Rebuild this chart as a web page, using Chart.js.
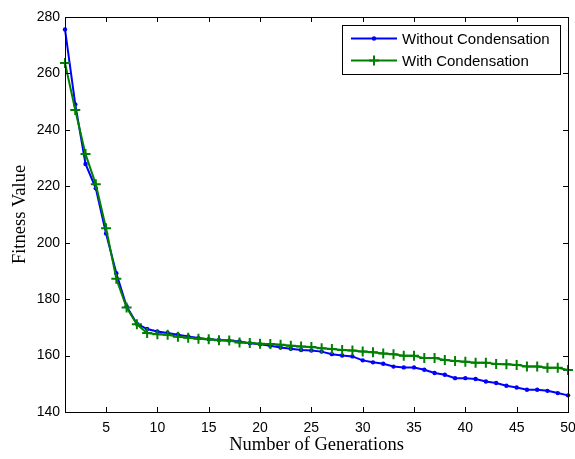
<!DOCTYPE html>
<html>
<head>
<meta charset="utf-8">
<script src="https://cdn.jsdelivr.net/npm/chart.js@4/dist/chart.umd.min.js"></script>
<style>
  html, body { margin: 0; padding: 0; background: #fff; }
  #wrap { width: 575px; height: 459px; }
</style>
</head>
<body>
<div id="wrap"><canvas id="fitness-chart"></canvas></div>
<script>
const generations = Array.from({ length: 50 }, (_, i) => i + 1);

const withoutCondensation = [
  275.6, 249.0, 227.9, 219.3, 203.3, 189.2, 177.5, 171.3, 169.4, 168.5,
  168.0, 167.4, 166.8, 166.2, 165.8, 165.5, 165.3, 165.0, 164.4, 164.0,
  163.5, 162.9, 162.4, 162.0, 161.8, 161.4, 160.5, 160.0, 159.7, 158.3,
  157.6, 157.1, 156.1, 155.8, 155.8, 155.0, 153.8, 153.2, 152.0, 152.0,
  151.7, 150.8, 150.3, 149.3, 148.7, 147.9, 147.9, 147.5, 146.7, 145.9
];

const withCondensation = [
  263.7, 247.0, 231.4, 220.7, 205.1, 187.2, 177.0, 171.1, 168.0, 167.6,
  167.4, 166.7, 166.3, 166.0, 165.8, 165.4, 165.3, 164.6, 164.5, 164.2,
  164.1, 163.8, 163.5, 163.2, 163.0, 162.6, 162.3, 162.0, 161.8, 161.4,
  161.2, 160.7, 160.5, 159.9, 159.9, 159.1, 159.1, 158.4, 158.1, 157.8,
  157.5, 157.5, 157.0, 156.9, 156.7, 156.1, 156.1, 155.7, 155.7, 154.9
];

const xTicks = [5, 10, 15, 20, 25, 30, 35, 40, 45, 50];
const yTicks = [140, 160, 180, 200, 220, 240, 260, 280];

const seriesNames = ["Without Condensation", "With Condensation"];
const seriesColors = ["#0000ff", "#008000"];

// box around the axes with inward tick marks on all four sides
const axesBox = {
  id: "axesBox",
  afterDatasetsDraw(chart) {
    const { ctx, chartArea: a, scales } = chart;
    const len = 5;
    ctx.save();
    ctx.strokeStyle = "#000";
    ctx.lineWidth = 1;
    ctx.strokeRect(a.left + 0.5, a.top + 0.5, a.right - a.left, a.bottom - a.top);
    ctx.beginPath();
    xTicks.forEach((v) => {
      const x = Math.round(scales.x.getPixelForValue(v)) + 0.5;
      ctx.moveTo(x, a.bottom); ctx.lineTo(x, a.bottom - len);
      ctx.moveTo(x, a.top); ctx.lineTo(x, a.top + len);
    });
    yTicks.forEach((v) => {
      const y = Math.round(scales.y.getPixelForValue(v)) + 0.5;
      ctx.moveTo(a.left, y); ctx.lineTo(a.left + len, y);
      ctx.moveTo(a.right, y); ctx.lineTo(a.right - len, y);
    });
    ctx.stroke();
    ctx.restore();
  }
};

// legend box in the upper right corner
const boxLegend = {
  id: "boxLegend",
  afterDraw(chart) {
    const { ctx } = chart;
    const x0 = 342, y0 = 25, w = 218, h = 49;
    ctx.save();
    ctx.fillStyle = "#fff";
    ctx.fillRect(x0, y0, w, h);
    ctx.strokeStyle = "#000";
    ctx.lineWidth = 1;
    ctx.strokeRect(x0 + 0.5, y0 + 0.5, w, h);
    ctx.font = "15px 'Liberation Sans', Arial, sans-serif";
    ctx.textBaseline = "middle";
    seriesNames.forEach((name, i) => {
      const y = 38.5 + i * 22;
      const xa = 351, xb = 397, xm = (xa + xb) / 2;
      ctx.strokeStyle = seriesColors[i];
      ctx.lineWidth = 2;
      ctx.beginPath();
      ctx.moveTo(xa, y); ctx.lineTo(xb, y);
      ctx.stroke();
      if (i === 0) {
        ctx.fillStyle = seriesColors[i];
        ctx.beginPath();
        ctx.arc(xm, y, 2.2, 0, Math.PI * 2);
        ctx.fill();
      } else {
        ctx.beginPath();
        ctx.moveTo(xm - 5, y); ctx.lineTo(xm + 5, y);
        ctx.moveTo(xm, y - 5); ctx.lineTo(xm, y + 5);
        ctx.stroke();
      }
      ctx.fillStyle = "#000";
      ctx.fillText(name, 402, y + 1);
    });
    ctx.restore();
  }
};

const tickFont = { family: "'Liberation Sans', Arial, sans-serif", size: 14 };
const titleFont = { family: "'Liberation Serif', 'Times New Roman', serif", size: 18.5 };

new Chart(document.getElementById("fitness-chart"), {
  type: "line",
  data: {
    labels: generations,
    datasets: [
      {
        label: seriesNames[0],
        data: generations.map((g, i) => ({ x: g, y: withoutCondensation[i] })),
        borderColor: seriesColors[0],
        backgroundColor: seriesColors[0],
        borderWidth: 2,
        pointStyle: "circle",
        pointRadius: 2.2,
        pointBorderWidth: 0,
        clip: false,
        order: 2
      },
      {
        label: seriesNames[1],
        data: generations.map((g, i) => ({ x: g, y: withCondensation[i] })),
        borderColor: seriesColors[1],
        backgroundColor: seriesColors[1],
        borderWidth: 2,
        pointStyle: "cross",
        pointRadius: 5,
        pointBorderWidth: 2,
        clip: false,
        order: 1
      }
    ]
  },
  options: {
    responsive: true,
    maintainAspectRatio: false,
    animation: false,
    events: [],
    layout: { padding: { left: 0, right: 7, top: 17, bottom: 0 } },
    plugins: {
      legend: { display: false },
      tooltip: { enabled: false }
    },
    scales: {
      x: {
        type: "linear",
        min: 1,
        max: 50,
        afterBuildTicks: (scale) => { scale.ticks = xTicks.map((v) => ({ value: v })); },
        afterFit: (scale) => {
          scale.height = 47;
          scale.paddingLeft = 0;
          scale.paddingRight = 0;
        },
        grid: { display: false, drawTicks: false },
        border: { display: false },
        ticks: { color: "#000", font: tickFont, padding: 8, maxRotation: 0 },
        title: {
          display: true,
          text: "Number of Generations",
          color: "#000",
          font: titleFont,
          padding: { top: 0, bottom: 3 }
        }
      },
      y: {
        min: 140,
        max: 280,
        afterBuildTicks: (scale) => { scale.ticks = yTicks.map((v) => ({ value: v })); },
        afterFit: (scale) => {
          scale.width = 65;
          scale.paddingTop = 0;
          scale.paddingBottom = 0;
        },
        grid: { display: false, drawTicks: false },
        border: { display: false },
        ticks: { color: "#000", font: tickFont, padding: 5 },
        title: {
          display: true,
          text: "Fitness Value",
          color: "#000",
          font: titleFont,
          padding: { top: 9, bottom: 0 }
        }
      }
    }
  },
  plugins: [axesBox, boxLegend]
});
</script>
</body>
</html>
